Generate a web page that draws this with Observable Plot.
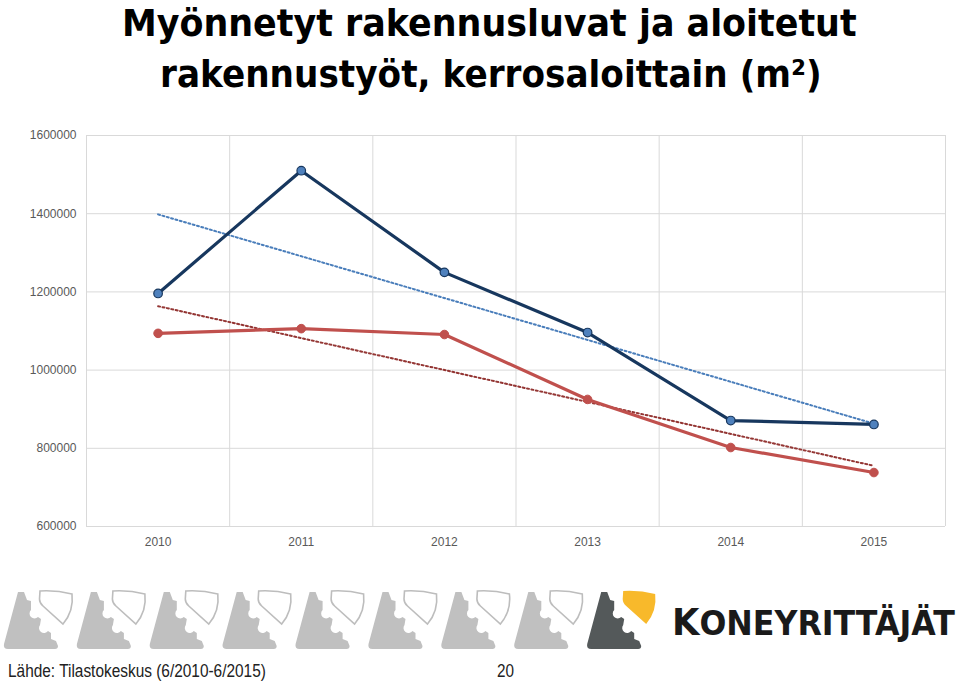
<!DOCTYPE html>
<html><head><meta charset="utf-8">
<script src="https://cdn.jsdelivr.net/npm/d3@7"></script>
<script src="https://cdn.jsdelivr.net/npm/@observablehq/plot@0.6"></script>
<style>
body{margin:0;background:#fff;}
#wrap{position:relative;width:960px;height:682px;overflow:hidden;background:#fff;}
#title{position:absolute;left:0;top:0;}
#chart{position:absolute;left:0;top:105px;}
#logo{position:absolute;left:0;top:575px;}
#foot{position:absolute;left:0;top:650px;}
</style></head>
<body>
<div id="wrap">
  <svg id="title" width="960" height="105">
    <text id="t1" font-family="DejaVu Sans, sans-serif" font-weight="bold" font-size="38" fill="#000">Myönnetyt rakennusluvat ja aloitetut</text>
    <text id="t2" font-family="DejaVu Sans, sans-serif" font-weight="bold" font-size="38" fill="#000">rakennustyöt, kerrosaloittain (m²)</text>
  </svg>
  <div id="chart"></div>
  <svg id="logo" width="960" height="75"></svg>
  <svg id="foot" width="960" height="32">
    <text id="f1" font-family="Liberation Sans, sans-serif" font-size="17.5" fill="#222">Lähde: Tilastokeskus (6/2010-6/2015)</text>
    <text id="f2" font-family="Liberation Sans, sans-serif" font-size="17.5" fill="#222">20</text>
  </svg>
</div>
<script>
// ---- data ----
const years = [2010, 2011, 2012, 2013, 2014, 2015];
const permits = [1196000, 1510000, 1250000, 1096000, 871000, 861000];   // myönnetyt rakennusluvat
const started = [1094000, 1106000, 1091000, 925000, 802000, 738000];    // aloitetut rakennustyöt
const yTicks = [600000, 800000, 1000000, 1200000, 1400000, 1600000];
const xTickLabels = ["2010", "2011", "2012", "2013", "2014", "2015"];

const rowsA = years.map((y, i) => ({year: y, value: permits[i]}));
const rowsB = years.map((y, i) => ({year: y, value: started[i]}));
const xGrid = years.map(y => y - 0.5).concat([years[years.length - 1] + 0.5]);

const navy = "#17375E", blueFill = "#4F81BD", blueTrend = "#4A7EBB";
const red = "#C0504D", redTrend = "#943634";

const chart = Plot.plot({
  width: 960,
  height: 460,
  marginTop: 30,
  marginBottom: 39,
  marginLeft: 86,
  marginRight: 15,
  style: {fontFamily: "Liberation Sans, sans-serif", fontSize: "12px", color: "#595959", background: "#fff"},
  x: {domain: [years[0] - 0.5, years[years.length - 1] + 0.5]},
  y: {domain: [yTicks[0], yTicks[yTicks.length - 1]]},
  marks: [
    Plot.gridY(yTicks, {stroke: "#d9d9d9", strokeOpacity: 1, strokeWidth: 1}),
    Plot.gridX(xGrid, {stroke: "#d9d9d9", strokeOpacity: 1, strokeWidth: 1}),
    Plot.axisY(yTicks, {tickSize: 0, tickPadding: 10, tickFormat: d => String(d), fill: "#595959", label: null}),
    Plot.axisX(years, {tickSize: 0, tickPadding: 11, tickFormat: (d, i) => xTickLabels[i], fill: "#595959", label: null}),
    Plot.linearRegressionY(rowsA, {x: "year", y: "value", stroke: blueTrend, strokeWidth: 2, strokeDasharray: "2,2.5", ci: 0}),
    Plot.linearRegressionY(rowsB, {x: "year", y: "value", stroke: redTrend, strokeWidth: 2, strokeDasharray: "2,2.5", ci: 0}),
    Plot.line(rowsB, {x: "year", y: "value", stroke: red, strokeWidth: 3.2}),
    Plot.dot(rowsB, {x: "year", y: "value", r: 4.3, fill: red, stroke: red, strokeWidth: 1}),
    Plot.line(rowsA, {x: "year", y: "value", stroke: navy, strokeWidth: 3.2}),
    Plot.dot(rowsA, {x: "year", y: "value", r: 4.3, fill: blueFill, stroke: navy, strokeWidth: 1.2})
  ]
});
document.getElementById("chart").appendChild(chart);

// scale a text horizontally so it spans the given width
function fit(el, x, y, w) {
  const n = el.getComputedTextLength();
  el.setAttribute("transform", `translate(${x},${y}) scale(${w / n},1)`);
}
fit(document.getElementById("t1"), 122, 36, 735);
fit(document.getElementById("t2"), 160, 87, 662);
fit(document.getElementById("f1"), 8, 27, 258);
fit(document.getElementById("f2"), 497, 27, 17);

// ---- decorative logo band ----
const ns = "http://www.w3.org/2000/svg";
const logo = document.getElementById("logo");
const gearPath = "M18,11 L24,11 L27,19 L31,20 L31,29 A4.5,4.5 0 0 0 38,36 L41,38 L40,44 A4.5,4.5 0 0 0 48,50 L51,52 L51,58 L56,60 L58,65 Q58,68 55,68 L8,68 Q3,68 4,63 Z";
const shieldPath = "M40,10 Q56,9 72,13 Q74,30 63,43 L43,25 Q39.5,22 39.5,18 Z";
for (let i = 0; i < 9; i++) {
  const g = document.createElementNS(ns, "g");
  g.setAttribute("transform", `translate(${i * 72.9},6)`);
  const dark = i === 8;
  const p1 = document.createElementNS(ns, "path");
  p1.setAttribute("d", gearPath);
  p1.setAttribute("fill", dark ? "#54595a" : "#c0c0c0");
  const p2 = document.createElementNS(ns, "path");
  p2.setAttribute("d", shieldPath);
  p2.setAttribute("fill", dark ? "#F8B92B" : "none");
  p2.setAttribute("stroke", dark ? "none" : "#bdbdbd");
  p2.setAttribute("stroke-width", "1.6");
  g.appendChild(p1); g.appendChild(p2);
  logo.appendChild(g);
}
const t = document.createElementNS(ns, "text");
t.setAttribute("fill", "#1a1a1a");
t.setAttribute("font-family", "DejaVu Sans, sans-serif");
t.setAttribute("font-weight", "bold");
t.innerHTML = '<tspan font-size="38">K</tspan><tspan font-size="34">ONEYRITTÄJÄT</tspan>';
logo.appendChild(t);
fit(t, 672, 60, 283);
</script>
</body></html>
